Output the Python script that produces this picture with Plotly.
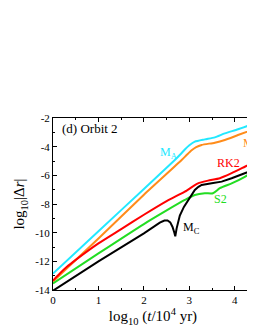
import plotly.graph_objects as go

# Data (x = log10(t/1e4 yr), y = log10|dr|)
ma_x = [0, 1, 2, 2.68, 2.8, 2.9, 3.0, 3.12, 3.34, 3.56, 3.78, 4.07, 4.33, 4.4]
ma_y = [-12.85, -9.9, -6.95, -4.93, -4.55, -4.2, -3.9, -3.65, -3.49, -3.35, -3.07, -2.79, -2.49, -2.35]

mb_x = [0, 1, 2, 2.83, 2.95, 3.05, 3.15, 3.27, 3.56, 3.78, 4.07, 4.4]
mb_y = [-13.4, -10.4, -7.35, -4.93, -4.55, -4.25, -4.03, -3.88, -3.72, -3.53, -3.19, -2.8]

rk2_x = [0, 0.15, 0.3, 0.5, 1, 1.5, 2, 2.5, 2.9, 3.19, 3.41, 3.67, 3.93, 4.22, 4.4]
rk2_y = [-13.35, -12.85, -12.4, -11.9, -10.75, -9.75, -8.75, -7.8, -7.14, -6.56, -6.37, -6.2, -5.85, -5.4, -5.12]

s2_x = [0, 1, 2, 2.5, 2.9, 3.12, 3.34, 3.52, 3.67, 3.93, 4.22, 4.4]
s2_y = [-13.54, -11.45, -9.4, -8.45, -7.72, -7.37, -7.25, -7.25, -6.9, -6.56, -6.1, -5.74]

mc_x = [0, 1, 2, 2.2, 2.35, 2.45, 2.52, 2.58, 2.63, 2.67, 2.69, 2.72, 2.75, 2.79, 2.88, 2.97,
        3.05, 3.12, 3.2, 3.27, 3.49, 3.71, 3.93, 4.22, 4.4]
mc_y = [-14.05, -12.0, -10.05, -9.6, -9.3, -9.15, -9.15, -9.28, -9.6, -10.0, -10.25, -9.7, -9.25,
        -8.8, -8.2, -7.72, -7.3, -7.02, -6.8, -6.67, -6.56, -6.44, -6.2, -5.85, -5.63]

x_ticks = [0, 1, 2, 3, 4]
x_ticktext = ["0", "1", "2", "3", "4"]
y_ticks = [-2, -4, -6, -8, -10, -12, -14]
y_ticktext = ["-2", "-4", "-6", "-8", "-10", "-12", "-14"]

C_A = "#22E8FF"
C_B = "#FF8C1A"
C_RK = "#FF0000"
C_S2 = "#22DD22"
C_C = "#000000"

fig = go.Figure()
for xs, ys, c, shp in [(ma_x, ma_y, C_A, "spline"), (mb_x, mb_y, C_B, "spline"),
                       (rk2_x, rk2_y, C_RK, "spline"), (s2_x, s2_y, C_S2, "spline"),
                       (mc_x, mc_y, C_C, "linear")]:
    line = dict(color=c, width=2, shape=shp)
    if shp == "spline":
        line["smoothing"] = 0.6
    fig.add_trace(go.Scatter(x=xs, y=ys, mode="lines", line=line,
                             showlegend=False, hoverinfo="skip"))

font = "Liberation Serif, Times New Roman, serif"

def ann(x, y, text, color, anchor="left"):
    fig.add_annotation(x=x, y=y, text=text, showarrow=False, xanchor=anchor, yanchor="middle",
                       font=dict(family=font, size=12, color=color))

ann(2.31, -4.45, "M<sub>A</sub>", C_A)
ann(4.13, -3.8, "M<sub>B</sub>", C_B)
ann(3.85, -5.15, "RK2", C_RK, "center")
ann(3.69, -7.65, "S2", C_S2, "center")
ann(2.81, -9.7, "M<sub>C</sub>", C_C)

fig.add_annotation(x=0.15, y=-2.7, text="(d) Orbit 2", showarrow=False, xanchor="left",
                   yanchor="middle", font=dict(family=font, size=13, color="black"))

axis_common = dict(showline=True, linecolor="black", linewidth=1, mirror="ticks",
                   ticks="inside", ticklen=4, tickcolor="black", showgrid=False, zeroline=False,
                   tickfont=dict(family=font, size=11, color="black"))

fig.update_xaxes(range=[0, 4.4], tickvals=x_ticks, ticktext=x_ticktext,
                 minor=dict(dtick=0.5, tick0=0, ticks="inside", ticklen=2, tickcolor="black"),
                 title=dict(text="log<sub>10</sub> (<i>t</i>/10<sup>4</sup> yr)",
                            font=dict(family=font, size=15, color="black"), standoff=2),
                 **axis_common)
fig.update_yaxes(range=[-14, -2], tickvals=y_ticks, ticktext=y_ticktext,
                 minor=dict(dtick=1, tick0=0, ticks="inside", ticklen=2, tickcolor="black"),
                 title=dict(text="log<sub>10</sub>|Δ<i>r</i>|",
                            font=dict(family=font, size=15, color="black"), standoff=6),
                 **axis_common)

# page body has an 8px margin, so the figure is sized to fit the window after that offset
fig.update_layout(width=247, height=322, margin=dict(l=45, r=2, t=110, b=40),
                  plot_bgcolor="white", paper_bgcolor="white")

fig.write_html("out.html")
